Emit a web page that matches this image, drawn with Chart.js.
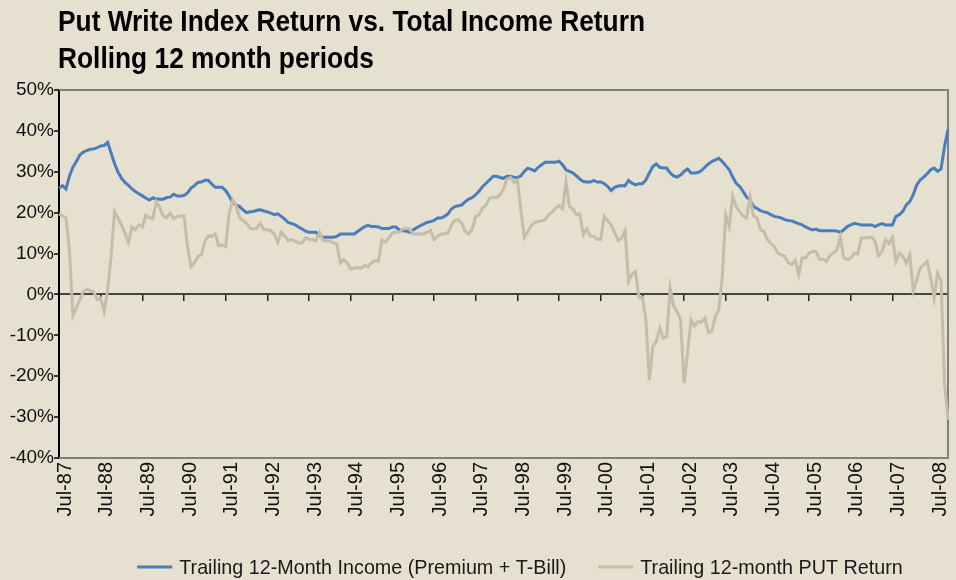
<!DOCTYPE html>
<html>
<head>
<meta charset="utf-8">
<script src="https://cdn.jsdelivr.net/npm/chart.js@4/dist/chart.umd.min.js"></script>
<style>
html,body{margin:0;padding:0;background:#E5E0D0;}
#wrap{width:956px;height:580px;position:relative;}
</style>
</head>
<body>
<div id="wrap"><canvas id="c" width="956" height="580"></canvas></div>
<script>
// ---------- data ----------
const TITLE_LINES = ['Put Write Index Return vs. Total Income Return', 'Rolling 12 month periods'];
const SERIES_NAMES = ['Trailing 12-Month Income (Premium + T-Bill)', 'Trailing 12-month PUT Return'];
const MONTH_NAMES = ['Jan','Feb','Mar','Apr','May','Jun','Jul','Aug','Sep','Oct','Nov','Dec'];
const FIRST_YEAR = 1987;      // first category: Jul-87
const FIRST_MONTH = 6;        // index into MONTH_NAMES
const Y_TICKS = [-40, -30, -20, -10, 0, 10, 20, 30, 40, 50];

// Trailing 12-month income (premium + T-bill), % — monthly Jul-87 .. Nov-08
const incomeReturn = [
  26.0, 26.6, 25.8, 28.9, 31.1, 32.5, 34.1, 34.8, 35.2, 35.5, 35.6, 35.9, 36.3, 36.4, 37.2, 34.6, 32.0, 29.9, 28.4, 27.4,
  26.7, 25.8, 25.2, 24.6, 24.1, 23.6, 23.1, 23.6, 23.4, 23.3, 23.3, 23.7, 23.8, 24.5, 24.1, 24.1, 24.2,
  24.8, 26.0, 26.6, 27.4, 27.5, 27.9, 27.9, 27.0, 26.2, 26.2, 26.2, 25.4, 24.1, 22.5, 21.9, 21.5, 20.7, 20.0,
  20.2, 20.3, 20.6, 20.7, 20.4, 20.2, 19.9, 19.5, 19.7, 19.1, 18.4, 17.6, 17.3, 17.0, 16.5, 16.0, 15.5, 15.2,
  15.2, 15.2, 14.4, 14.0, 14.0, 14.0, 14.0, 14.2, 14.8, 14.8, 14.8, 14.8, 14.8, 15.4, 16.0, 16.6, 16.9, 16.6,
  16.6, 16.5, 16.1, 16.1, 16.1, 16.5, 16.5, 15.8, 15.6, 15.5, 15.2, 15.8, 16.3, 16.8, 17.2, 17.6, 17.8, 18.1,
  18.7, 18.7, 19.1, 19.7, 20.9, 21.5, 21.7, 21.9, 22.7, 23.3, 23.7, 24.4, 25.3, 26.4, 27.2, 28.0, 28.9, 28.9,
  28.6, 28.4, 28.9, 28.9, 28.7, 28.5, 29.0, 30.1, 30.9, 30.6, 30.2, 31.1, 31.7, 32.3, 32.3, 32.3, 32.3, 32.6,
  31.7, 30.5, 30.1, 29.7, 29.0, 28.2, 27.6, 27.5, 27.5, 27.9, 27.5, 27.5, 27.1, 26.4, 25.4, 26.2, 26.5, 26.6,
  26.6, 27.9, 27.2, 26.8, 27.1, 27.1, 28.0, 29.7, 31.3, 31.9, 31.1, 30.9, 30.9, 29.7, 29.0, 28.7, 29.2, 30.1,
  30.7, 29.7, 29.7, 29.8, 30.3, 31.1, 31.9, 32.5, 32.9, 33.3, 32.5, 31.5, 30.5, 28.7, 27.2, 26.4, 25.2, 23.8,
  23.1, 21.5, 21.0, 20.5, 20.2, 20.0, 19.5, 19.1, 18.9, 18.7, 18.3, 18.1, 18.0, 17.6, 17.3, 17.0, 16.5, 16.1,
  15.8, 16.0, 15.6, 15.6, 15.6, 15.6, 15.6, 15.5, 15.2, 15.8, 16.6, 17.0, 17.4, 17.2, 17.0, 17.0, 17.0, 17.0,
  16.6, 17.0, 17.3, 17.0, 17.0, 17.0, 19.1, 19.5, 20.3, 21.9, 22.7, 24.4, 26.8, 28.0, 28.7, 29.5, 30.5, 30.9,
  30.1, 30.7, 36.2, 40.4
];

// Trailing 12-month PUT index return, % — monthly Jul-87 .. Nov-08
const putReturn = [
  19.7, 19.2, 18.7, 10.9, -5.2, -3.3, -1.3, 0.7, 1.3, 0.9, 0.6, -1.3, -0.9, -4.2, 1.1, 9.3, 20.3, 18.7, 17.0, 15.0,
  12.7, 16.5, 15.8, 17.0, 16.5, 19.4, 18.8, 18.5, 22.7, 21.3, 19.2, 18.8, 19.9, 18.5, 19.1, 19.2, 19.2,
  11.7, 6.8, 7.8, 9.3, 9.7, 13.0, 14.3, 14.2, 14.8, 11.9, 12.1, 11.7, 19.8, 23.1, 21.8, 18.7, 18.1, 17.4,
  16.2, 16.0, 16.2, 17.4, 15.8, 15.8, 15.6, 14.8, 12.7, 15.2, 14.3, 13.1, 13.4, 13.0, 12.6, 12.6, 13.9, 13.5,
  13.4, 13.1, 15.2, 13.2, 13.1, 13.1, 12.6, 12.4, 7.7, 8.5, 7.7, 6.2, 6.4, 6.6, 6.4, 7.1, 6.8, 7.7,
  8.3, 8.1, 13.4, 12.8, 13.8, 15.0, 15.2, 15.2, 16.0, 16.2, 16.0, 14.8, 14.8, 14.8, 14.8, 15.2, 15.6, 13.4,
  14.2, 14.8, 14.8, 15.0, 17.0, 18.1, 18.3, 17.4, 15.4, 14.8, 16.0, 19.1, 19.5, 21.1, 21.9, 23.6, 23.8, 23.6,
  24.4, 25.8, 28.2, 28.6, 27.4, 28.0, 20.7, 14.0, 15.4, 16.8, 17.6, 17.8, 18.0, 18.3, 19.5, 20.2, 21.1, 21.7,
  20.9, 27.6, 21.5, 20.9, 19.5, 19.7, 14.6, 16.0, 14.3, 14.2, 13.5, 13.5, 19.1, 18.0, 17.0, 15.2, 13.2, 13.8,
  15.6, 3.2, 5.0, 5.6, -0.7, -0.8, -6.0, -21.0, -12.7, -11.5, -8.2, -10.7, -10.3, 1.5, -2.9, -4.2, -6.2, -21.7,
  -14.3, -6.2, -7.7, -6.6, -6.8, -5.8, -9.3, -9.0, -5.4, -3.7, 4.4, 19.5, 16.6, 24.1, 21.5, 20.3, 19.2, 18.7,
  23.8, 19.2, 18.7, 15.8, 15.4, 13.4, 12.4, 11.7, 10.1, 9.7, 9.3, 7.7, 7.3, 8.3, 4.8, 8.9, 8.9, 10.1,
  10.5, 10.5, 8.6, 8.6, 8.1, 9.5, 10.1, 10.9, 14.0, 8.9, 8.5, 8.9, 10.1, 9.9, 13.8, 13.8, 13.9, 14.0,
  13.0, 9.5, 10.5, 13.4, 12.4, 14.0, 8.1, 10.1, 9.3, 7.7, 9.7, 0.9, 3.6, 6.4, 7.3, 8.1, 4.0, -0.9,
  5.2, 3.2, -21.7, -30.6
];

// month categories built from the first month and the series length
const categories = [];
for (let k = 0; k < incomeReturn.length; k++) {
  const m = (FIRST_MONTH + k) % 12;
  const y = FIRST_YEAR + Math.floor((FIRST_MONTH + k) / 12);
  categories.push(MONTH_NAMES[m] + '-' + String(y % 100).padStart(2, '0'));
}
const isLabelled = i => !!categories[i] && categories[i].startsWith('Jul');

// ---------- style ----------
const FONT = '"Liberation Sans", Arial, sans-serif';
const BG = '#E5E0D0';
const BLUE = '#4A7EBB';
const TAN = '#C6BCA7';

// draw text squeezed horizontally so that it fits a given width
function narrowText(c, text, x, y, targetWidth) {
  const w = c.measureText(text).width;
  const sx = targetWidth ? targetWidth / w : 1;
  c.save();
  c.translate(x, y);
  c.scale(sx, 1);
  c.fillText(text, 0, 0);
  c.restore();
  return w * sx;
}

const decor = {
  id: 'decor',
  beforeDraw(chart) {
    const c = chart.ctx;
    c.save();
    c.fillStyle = BG;
    c.fillRect(0, 0, chart.width, chart.height);
    c.restore();
  },
  beforeDatasetsDraw(chart) {
    const c = chart.ctx, a = chart.chartArea;
    c.save();
    c.strokeStyle = '#808080';
    c.lineWidth = 2;
    c.beginPath();
    c.moveTo(a.left, a.top); c.lineTo(a.right, a.top);
    c.lineTo(a.right, a.bottom); c.lineTo(a.left, a.bottom);
    c.stroke();
    c.restore();
  },
  afterDraw(chart) {
    const c = chart.ctx;
    c.save();
    // title (condensed bold face)
    c.fillStyle = '#000';
    c.font = 'bold 29px ' + FONT;
    c.textAlign = 'left';
    c.textBaseline = 'alphabetic';
    const w0 = c.measureText(TITLE_LINES[0]).width;
    const sxT = 587 / w0;
    narrowText(c, TITLE_LINES[0], 58, 31, w0 * sxT);
    narrowText(c, TITLE_LINES[1], 58, 68, c.measureText(TITLE_LINES[1]).width * sxT);
    // legend
    c.font = '21px ' + FONT;
    c.textBaseline = 'middle';
    const ds = chart.data.datasets;
    const sxL = 387 / c.measureText(ds[0].label).width;
    const sample = 35, gapT = 7, gapItem = 32;
    const widths = ds.map(d => c.measureText(d.label).width * sxL);
    let total = 0;
    widths.forEach((w, i) => { total += sample + gapT + w + (i ? gapItem : 0); });
    let x = 520 - total / 2;
    const ly = 567;
    ds.forEach((d, i) => {
      c.strokeStyle = d.borderColor;
      c.lineWidth = 3;
      c.beginPath();
      c.moveTo(x, ly); c.lineTo(x + sample, ly);
      c.stroke();
      x += sample + gapT;
      c.fillStyle = '#1a1a1a';
      narrowText(c, d.label, x, ly + 1, widths[i]);
      x += widths[i] + gapItem;
    });
    c.restore();
  }
};

new Chart(document.getElementById('c'), {
  type: 'line',
  data: {
    labels: categories,
    datasets: [
      { label: SERIES_NAMES[0], data: incomeReturn, borderColor: BLUE, backgroundColor: BLUE,
        borderWidth: 3, pointRadius: 0, tension: 0, order: 1 },
      { label: SERIES_NAMES[1], data: putReturn, borderColor: TAN, backgroundColor: TAN,
        borderWidth: 3, pointRadius: 0, tension: 0, order: 0 }
    ]
  },
  options: {
    responsive: false,
    animation: false,
    devicePixelRatio: 1,
    layout: { padding: { top: 90, right: 8, bottom: 0, left: 0 } },
    plugins: { legend: { display: false }, title: { display: false }, tooltip: { enabled: false } },
    scales: {
      x: {
        type: 'category',
        offset: false,
        ticks: {
          autoSkip: false, maxRotation: 90, minRotation: 90, padding: 4, labelOffset: 6,
          color: '#111', font: { family: FONT, size: 20 },
          callback: (v, i) => isLabelled(i) ? categories[i] : ''
        },
        grid: { display: false, drawTicks: false },
        border: { display: false },
        afterFit: s => { s.height = 122; s.paddingLeft = 0; s.paddingRight = 0; }
      },
      xz: {
        type: 'category',
        position: { y: 0 },
        offset: false,
        ticks: { display: false, autoSkip: false },
        grid: {
          drawOnChartArea: false, drawTicks: true, tickLength: 7, lineWidth: 1.5,
          color: ctx => isLabelled(ctx.index) ? '#222' : 'rgba(0,0,0,0)'
        },
        border: { display: false },
        afterFit: s => { s.paddingLeft = 0; s.paddingRight = 0; }
      },
      y: {
        min: -40, max: 50,
        afterBuildTicks: s => { s.ticks = Y_TICKS.map(v => ({ value: v })); },
        ticks: { color: '#111', font: { family: FONT, size: 19 }, padding: 0,
                 callback: v => v + '%' },
        grid: {
          color: ctx => (ctx.tick && ctx.tick.value === 0) ? '#444' : 'rgba(0,0,0,0)',
          lineWidth: 2, drawTicks: true, tickLength: 5, tickColor: '#000', tickWidth: 1.5
        },
        border: { color: '#000', width: 2 },
        afterFit: s => { s.width = 59; }
      }
    }
  },
  plugins: [decor]
});
</script>
</body>
</html>
